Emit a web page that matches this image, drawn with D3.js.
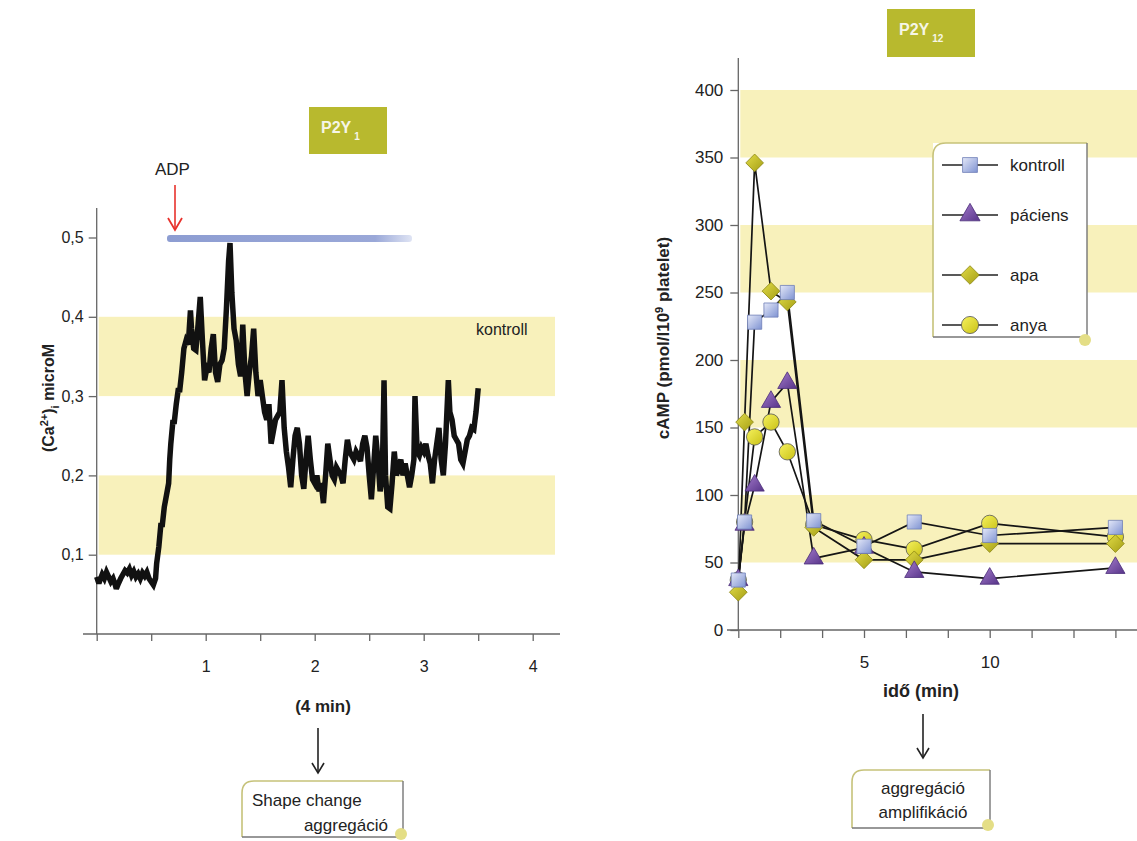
<!DOCTYPE html>
<html>
<head>
<meta charset="utf-8">
<script src="https://cdn.jsdelivr.net/npm/d3@7"></script>
<style>
  body { margin: 0; background: #fff; }
  svg { font-family: "Liberation Sans", Arial, sans-serif; }
  .axis path, .axis line { stroke: #666; stroke-width: 1.3; }
  .axis text { fill: #222; }
</style>
</head>
<body>
<script>
// ---- left panel: Ca2+ trace after ADP (time in min, value in microM)
var caTrace = [
  [0.00,0.072],[0.02,0.064],[0.03,0.068],[0.05,0.075],[0.07,0.070],[0.09,0.078],[0.11,0.072],
  [0.13,0.066],[0.15,0.070],[0.17,0.062],[0.18,0.057],[0.20,0.064],[0.22,0.070],[0.24,0.075],
  [0.26,0.080],[0.28,0.077],[0.30,0.082],[0.32,0.074],[0.34,0.079],[0.36,0.072],[0.38,0.076],
  [0.40,0.070],[0.42,0.077],[0.44,0.073],[0.46,0.078],[0.48,0.070],[0.50,0.066],[0.52,0.062],
  [0.54,0.070],[0.55,0.089],[0.57,0.110],[0.59,0.140],[0.60,0.135],[0.62,0.160],[0.64,0.175],
  [0.66,0.190],[0.67,0.220],[0.68,0.240],[0.70,0.270],[0.71,0.265],[0.73,0.290],[0.75,0.310],
  [0.76,0.305],[0.78,0.330],[0.80,0.360],[0.82,0.370],[0.84,0.365],[0.86,0.408],[0.87,0.385],
  [0.89,0.360],[0.91,0.358],[0.93,0.390],[0.95,0.425],[0.97,0.370],[0.99,0.320],[1.01,0.335],
  [1.03,0.330],[1.05,0.360],[1.07,0.378],[1.09,0.330],[1.11,0.318],[1.13,0.340],[1.15,0.345],
  [1.17,0.360],[1.19,0.410],[1.21,0.470],[1.223,0.493],[1.24,0.430],[1.26,0.385],[1.28,0.370],
  [1.30,0.340],[1.32,0.325],[1.34,0.390],[1.36,0.330],[1.38,0.300],[1.40,0.330],[1.42,0.350],
  [1.44,0.385],[1.46,0.330],[1.48,0.300],[1.50,0.320],[1.52,0.300],[1.54,0.280],[1.56,0.270],
  [1.58,0.290],[1.60,0.240],[1.62,0.255],[1.64,0.270],[1.66,0.275],[1.68,0.280],[1.70,0.320],
  [1.72,0.260],[1.74,0.230],[1.76,0.210],[1.78,0.185],[1.80,0.220],[1.82,0.250],[1.84,0.260],
  [1.86,0.240],[1.88,0.200],[1.90,0.183],[1.92,0.220],[1.94,0.250],[1.96,0.220],[1.98,0.195],
  [2.00,0.190],[2.02,0.200],[2.04,0.180],[2.06,0.190],[2.08,0.165],[2.10,0.200],[2.12,0.240],
  [2.14,0.220],[2.16,0.200],[2.18,0.195],[2.20,0.210],[2.22,0.205],[2.24,0.200],[2.26,0.190],
  [2.28,0.220],[2.30,0.245],[2.32,0.230],[2.34,0.225],[2.36,0.220],[2.38,0.230],[2.40,0.225],
  [2.42,0.218],[2.44,0.240],[2.46,0.250],[2.48,0.235],[2.50,0.200],[2.52,0.170],[2.54,0.210],
  [2.56,0.250],[2.58,0.220],[2.60,0.180],[2.62,0.200],[2.636,0.320],[2.65,0.200],[2.67,0.160],
  [2.69,0.158],[2.71,0.190],[2.73,0.230],[2.75,0.200],[2.77,0.210],[2.79,0.220],[2.81,0.200],
  [2.83,0.215],[2.85,0.200],[2.87,0.185],[2.89,0.200],[2.91,0.220],[2.92,0.300],[2.94,0.230],
  [2.96,0.225],[2.98,0.235],[3.00,0.230],[3.02,0.240],[3.04,0.225],[3.06,0.215],[3.08,0.190],
  [3.10,0.220],[3.12,0.240],[3.14,0.260],[3.16,0.220],[3.18,0.200],[3.20,0.240],[3.226,0.320],
  [3.24,0.280],[3.26,0.270],[3.28,0.250],[3.30,0.245],[3.32,0.240],[3.34,0.220],[3.36,0.215],
  [3.38,0.230],[3.40,0.245],[3.42,0.250],[3.44,0.260],[3.46,0.258],[3.48,0.280],[3.50,0.310]
];
var caTicks = [0, 0.5, 1, 1.5, 2, 2.5, 3, 3.5, 4];
var caTickLabels = [1, 2, 3, 4];
var caYTicks = [0.1, 0.2, 0.3, 0.4, 0.5];
var caBands = [[0.1, 0.2], [0.3, 0.4]];

// ---- right panel: cAMP over time
var times = [0, 0.25, 0.65, 1.3, 1.95, 3, 5, 7, 10, 15];
var kontroll = [37, 80, 228, 237, 250, 81, 62, 80, 70, 76];
var paciens = [37, 78, 107, 169, 183, 53, 61, 43, 38, 46];
var apa = [28, 154, 346, 251, 243, 76, 52, 52, 64, 64];
var anya = [37, 80, 143, 154, 132, 78, 67, 60, 79, 69];
var seriesNames = ["kontroll", "páciens", "apa", "anya"];
var campTicks = [0, 5/3, 10/3, 5, 20/3, 25/3, 10, 35/3, 40/3, 15];
var campTickLabels = [5, 10];
var campYTicks = [0, 50, 100, 150, 200, 250, 300, 350, 400];
var campBands = [[50, 100], [150, 200], [250, 300], [350, 400]];

var width = 1137, height = 841;
var svg = d3.select("body").append("svg")
    .attr("width", width)
    .attr("height", height);

var defs = svg.append("defs");
function grad(id, c1, c2){
    var g = defs.append("linearGradient").attr("id", id)
        .attr("x1", "0").attr("y1", "0").attr("x2", "1").attr("y2", "1");
    g.append("stop").attr("offset", "0").attr("stop-color", c1);
    g.append("stop").attr("offset", "1").attr("stop-color", c2);
}
grad("gSquare", "#e4e8f8", "#7f93d2");
grad("gTri", "#a57ccc", "#573489");
grad("gDia", "#e2dc48", "#a49e14");
grad("gCirc", "#f6f25e", "#c9c116");
var barGrad = defs.append("linearGradient").attr("id", "gBar");
barGrad.append("stop").attr("offset", "0").attr("stop-color", "#8d9dd2");
barGrad.append("stop").attr("offset", "0.85").attr("stop-color", "#9aa8d8");
barGrad.append("stop").attr("offset", "1").attr("stop-color", "#dfe4f4");

var bandColor = "#f8f1bb";
var olive = "#b8b92e";

// ================= LEFT PANEL =================
var xL = d3.scaleLinear().domain([0, 4]).range([96.7, 532.7]);
var yL = d3.scaleLinear().domain([0, 0.5]).range([634, 237.5]);

//yellow bands
svg.selectAll(".bandL")
    .data(caBands)
    .enter()
    .append("rect")
    .attr("class", "bandL")
    .attr("x", xL(0) + 2)
    .attr("width", 555 - xL(0) - 2)
    .attr("y", function(d){ return yL(d[1]); })
    .attr("height", function(d){ return yL(d[0]) - yL(d[1]); })
    .attr("fill", bandColor);

//x axis
var xAxisL = svg.append("g")
    .attr("class", "axis")
    .attr("transform", "translate(0," + yL(0) + ")")
    .call(d3.axisBottom(xL).tickValues(caTicks).tickSize(7).tickPadding(20)
        .tickFormat(function(d){ return caTickLabels.indexOf(d) >= 0 ? d : ""; }));
xAxisL.select(".domain").remove();
xAxisL.append("line").attr("x1", 83).attr("x2", 560).attr("stroke", "#666").attr("stroke-width", 1.3);
xAxisL.selectAll("text").attr("font-size", 16);

//y axis
var yAxisL = svg.append("g")
    .attr("class", "axis")
    .attr("transform", "translate(" + xL(0) + ",0)")
    .call(d3.axisLeft(yL).tickValues(caYTicks).tickSize(8).tickPadding(5)
        .tickFormat(function(d){ return d3.format(".1f")(d).replace(".", ","); }));
yAxisL.select(".domain").remove();
yAxisL.append("line").attr("y1", 208).attr("y2", yL(0)).attr("stroke", "#666").attr("stroke-width", 1.3);
yAxisL.selectAll("text").attr("font-size", 16);

//trace
var lineL = d3.line()
    .x(function(d){ return xL(d[0]); })
    .y(function(d){ return yL(d[1]); });
svg.append("path")
    .datum(caTrace)
    .attr("d", lineL)
    .attr("fill", "none")
    .attr("stroke", "#111")
    .attr("stroke-width", 5.5)
    .attr("stroke-linejoin", "miter")
    .attr("stroke-miterlimit", 3);

//ADP bar and arrow
svg.append("rect")
    .attr("x", 167).attr("y", 235).attr("width", 245).attr("height", 7)
    .attr("rx", 3)
    .attr("fill", "url(#gBar)");
svg.append("text").attr("x", 155).attr("y", 175)
    .attr("font-size", 17).attr("fill", "#222").text("ADP");
svg.append("line")
    .attr("x1", 175).attr("y1", 185).attr("x2", 175).attr("y2", 229)
    .attr("stroke", "#e8322c").attr("stroke-width", 1.6);
svg.append("path")
    .attr("d", "M168,218 L175,230 L182,218")
    .attr("fill", "none").attr("stroke", "#e8322c").attr("stroke-width", 1.8);

svg.append("text").attr("x", 476).attr("y", 335)
    .attr("font-size", 16).attr("fill", "#222").text("kontroll");

//y label
var ylab = svg.append("text")
    .attr("transform", "translate(54,398) rotate(-90)")
    .attr("text-anchor", "middle")
    .attr("font-size", 16).attr("font-weight", "bold").attr("fill", "#222");
ylab.append("tspan").text("(Ca");
ylab.append("tspan").attr("dy", -6).attr("font-size", 11).text("2+");
ylab.append("tspan").attr("dy", 6).text(")");
ylab.append("tspan").attr("dy", 5).attr("font-size", 11).text("i");
ylab.append("tspan").attr("dy", -5).text(" microM");

svg.append("text").attr("x", 323).attr("y", 712)
    .attr("text-anchor", "middle")
    .attr("font-size", 17).attr("font-weight", "bold").attr("fill", "#222")
    .text("(4 min)");

// ================= RIGHT PANEL =================
var xR = d3.scaleLinear().domain([0, 15]).range([738.3, 1115.4]);
var yR = d3.scaleLinear().domain([0, 400]).range([630, 90]);

svg.selectAll(".bandR")
    .data(campBands)
    .enter()
    .append("rect")
    .attr("class", "bandR")
    .attr("x", xR(0) + 2)
    .attr("width", width - xR(0) - 2)
    .attr("y", function(d){ return yR(d[1]); })
    .attr("height", function(d){ return yR(d[0]) - yR(d[1]); })
    .attr("fill", bandColor);

var xAxisR = svg.append("g")
    .attr("class", "axis")
    .attr("transform", "translate(0," + yR(0) + ")")
    .call(d3.axisBottom(xR).tickValues(campTicks).tickSize(8).tickPadding(18)
        .tickFormat(function(d){
            var r = Math.round(d);
            return (Math.abs(d - r) < 1e-6 && campTickLabels.indexOf(r) >= 0) ? r : "";
        }));
xAxisR.select(".domain").remove();
xAxisR.append("line").attr("x1", 727).attr("x2", width).attr("stroke", "#666").attr("stroke-width", 1.3);
xAxisR.selectAll("text").attr("font-size", 17);

var yAxisR = svg.append("g")
    .attr("class", "axis")
    .attr("transform", "translate(" + xR(0) + ",0)")
    .call(d3.axisLeft(yR).tickValues(campYTicks).tickSize(8).tickPadding(7));
yAxisR.select(".domain").remove();
yAxisR.append("line").attr("y1", 58).attr("y2", yR(0)).attr("stroke", "#666").attr("stroke-width", 1.3);
yAxisR.selectAll("text").attr("font-size", 17);

var seriesData = [kontroll, paciens, apa, anya];
var markers = [
    {type: d3.symbolSquare, size: 200, fill: "url(#gSquare)", stroke: "#6f7fb8"},
    {type: d3.symbolTriangle, size: 160, fill: "url(#gTri)", stroke: "#4a2c78"},
    {type: d3.symbolDiamond2, size: 200, fill: "url(#gDia)", stroke: "#8a8510"},
    {type: d3.symbolCircle, size: 210, fill: "url(#gCirc)", stroke: "#555"}
];

var lineR = d3.line()
    .x(function(d, i){ return xR(times[i]); })
    .y(function(d){ return yR(d); });

svg.selectAll(".campLine")
    .data(seriesData)
    .enter()
    .append("path")
    .attr("class", "campLine")
    .attr("d", lineR)
    .attr("fill", "none")
    .attr("stroke", "#151515")
    .attr("stroke-width", 1.7);

//markers, drawn in reverse so kontroll sits on top
[3, 2, 1, 0].forEach(function(s){
    svg.selectAll(".mk" + s)
        .data(seriesData[s])
        .enter()
        .append("path")
        .attr("class", "mk" + s)
        .attr("transform", function(d, i){ return "translate(" + xR(times[i]) + "," + yR(d) + ")"; })
        .attr("d", d3.symbol().type(markers[s].type).size(markers[s].size))
        .attr("fill", markers[s].fill)
        .attr("stroke", markers[s].stroke)
        .attr("stroke-width", 0.8);
});

//legend
var leg = svg.append("g");
leg.append("rect").attr("x", 933).attr("y", 143).attr("width", 154).attr("height", 194)
    .attr("fill", "#fff").attr("stroke", "none");
leg.append("path")
    .attr("d", "M933,337 L933,156 Q933,143 946,143 L1087,143")
    .attr("fill", "none").attr("stroke", "#c6c27a").attr("stroke-width", 1.6);
leg.append("path")
    .attr("d", "M1087,143 L1087,337 L933,337")
    .attr("fill", "none").attr("stroke", "#777").attr("stroke-width", 1.4);
leg.append("circle").attr("cx", 1085).attr("cy", 340).attr("r", 6).attr("fill", "#e4de86");

var legY = [165, 215, 275, 325];
seriesNames.forEach(function(name, i){
    leg.append("line").attr("x1", 942).attr("x2", 998).attr("y1", legY[i]).attr("y2", legY[i])
        .attr("stroke", "#222").attr("stroke-width", 1.3);
    leg.append("path")
        .attr("transform", "translate(970," + legY[i] + ")")
        .attr("d", d3.symbol().type(markers[i].type).size(markers[i].size * 1.1))
        .attr("fill", markers[i].fill)
        .attr("stroke", markers[i].stroke)
        .attr("stroke-width", 0.8);
    leg.append("text").attr("x", 1010).attr("y", legY[i] + 6)
        .attr("font-size", 17).attr("fill", "#222").text(name);
});

//axis titles
var ylabR = svg.append("text")
    .attr("transform", "translate(669,338) rotate(-90)")
    .attr("text-anchor", "middle")
    .attr("font-size", 17).attr("font-weight", "bold").attr("fill", "#222");
ylabR.append("tspan").text("cAMP (pmol/l10");
ylabR.append("tspan").attr("dy", -6).attr("font-size", 11).text("9");
ylabR.append("tspan").attr("dy", 6).text(" platelet)");

svg.append("text").attr("x", 921).attr("y", 697)
    .attr("text-anchor", "middle")
    .attr("font-size", 18).attr("font-weight", "bold").attr("fill", "#222")
    .text("idő (min)");

// ================= LABEL BOXES =================
function receptorBox(x, y, w, h, sub){
    svg.append("rect").attr("x", x).attr("y", y).attr("width", w).attr("height", h)
        .attr("fill", olive);
    var t = svg.append("text").attr("x", x + 12).attr("y", y + 26)
        .attr("font-size", 16).attr("font-weight", "bold").attr("fill", "#f6f6e6");
    t.append("tspan").text("P2Y");
    t.append("tspan").attr("dx", 3).attr("dy", 7).attr("font-size", 10).text(sub);
}
receptorBox(309, 107, 78, 47, "1");
receptorBox(887, 9, 88, 48, "12");

function noteBox(x, y, w, h, lines){
    svg.append("rect").attr("x", x).attr("y", y).attr("width", w).attr("height", h)
        .attr("fill", "#fff");
    svg.append("path")
        .attr("d", "M" + x + "," + (y + h) + " L" + x + "," + (y + 12) + " Q" + x + "," + y + " " + (x + 12) + "," + y + " L" + (x + w) + "," + y)
        .attr("fill", "none").attr("stroke", "#c6c27a").attr("stroke-width", 1.6);
    svg.append("path")
        .attr("d", "M" + (x + w) + "," + y + " L" + (x + w) + "," + (y + h) + " L" + x + "," + (y + h))
        .attr("fill", "none").attr("stroke", "#777").attr("stroke-width", 1.4);
    svg.append("circle").attr("cx", x + w - 2).attr("cy", y + h - 3).attr("r", 6).attr("fill", "#e4de86");
    lines.forEach(function(l){
        svg.append("text").attr("x", l[0]).attr("y", l[1])
            .attr("text-anchor", l[3])
            .attr("font-size", 17).attr("fill", "#222").text(l[2]);
    });
}
function downArrow(x, y1, y2){
    svg.append("line").attr("x1", x).attr("x2", x).attr("y1", y1).attr("y2", y2)
        .attr("stroke", "#222").attr("stroke-width", 1.6);
    svg.append("path").attr("d", "M" + (x - 6) + "," + (y2 - 10) + " L" + x + "," + y2 + " L" + (x + 6) + "," + (y2 - 10))
        .attr("fill", "none").attr("stroke", "#222").attr("stroke-width", 1.6);
}
downArrow(318, 728, 773);
noteBox(242, 781, 161, 56, [[252, 806, "Shape change", "start"], [388, 831, "aggregáció", "end"]]);
downArrow(923, 714, 758);
noteBox(852, 770, 138, 58, [[923, 794, "aggregáció", "middle"], [923, 818, "amplifikáció", "middle"]]);
</script>
</body>
</html>
